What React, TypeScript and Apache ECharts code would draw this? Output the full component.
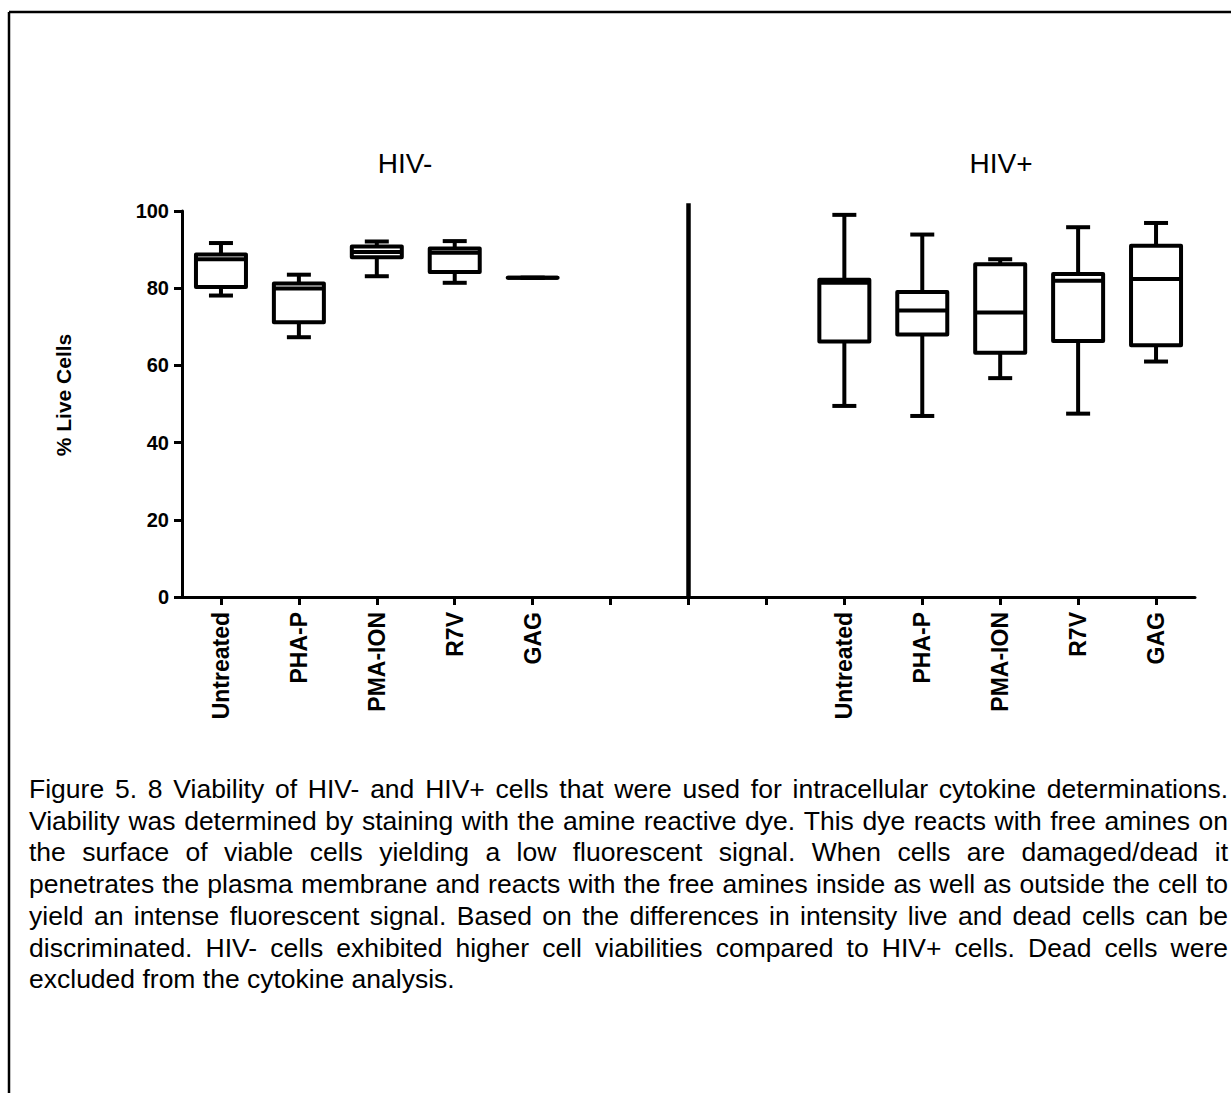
import React, { useEffect, useRef } from 'react';
import * as echarts from 'echarts';

const CATEGORIES = ['Untreated', 'PHA-P', 'PMA-ION', 'R7V', 'GAG', '', '', '', 'Untreated', 'PHA-P', 'PMA-ION', 'R7V', 'GAG'];
const Y_MIN = 0;
const Y_MAX = 100;
const Y_STEP = 20;

// [categoryIndex, min, q1, median, q3, max]
const HIV_NEG_BOXES = [
  [0, 78.1, 80.3, 87.5, 88.7, 91.7],
  [1, 67.3, 71.2, 79.9, 81.2, 83.5],
  [2, 83.1, 88.0, 89.4, 90.8, 92.1],
  [3, 81.4, 84.2, 89.2, 90.3, 92.2],
  [4, 82.7, 82.7, 82.7, 82.7, 82.7],
];
const HIV_POS_BOXES = [
  [8, 49.5, 66.2, 81.4, 82.2, 99.0],
  [9, 46.9, 68.0, 74.2, 79.0, 93.9],
  [10, 56.7, 63.3, 73.7, 86.2, 87.5],
  [11, 47.5, 66.3, 81.9, 83.7, 95.8],
  [12, 61.0, 65.2, 82.4, 91.0, 96.9],
];
// [categoryIndex, from, to]
const DIVIDER = [[6, 0, 102]];

const GROUP_TITLES = ['HIV-', 'HIV+'];
const Y_TITLE = '% Live Cells';
const CAPTION_LINES = [
  'Figure 5. 8 Viability of HIV- and HIV+ cells that were used for intracellular cytokine determinations.',
  'Viability was determined by staining with the amine reactive dye. This dye reacts with free amines on',
  'the surface of viable cells yielding a low fluorescent signal. When cells are damaged/dead it',
  'penetrates the plasma membrane and reacts with the free amines inside as well as outside the cell to',
  'yield an intense fluorescent signal. Based on the differences in intensity live and dead cells can be',
  'discriminated. HIV- cells exhibited higher cell viabilities compared to HIV+ cells. Dead cells were',
  'excluded from the cytokine analysis.',
];

const FONT = '"Liberation Sans", Arial, sans-serif';
const STROKE = { stroke: '#000', lineWidth: 4, fill: 'none', lineJoin: 'round' };

function renderBox(params: any, api: any) {
  const x = api.value(0);
  const pMin = api.coord([x, api.value(1)]);
  const pQ1 = api.coord([x, api.value(2)]);
  const pMed = api.coord([x, api.value(3)]);
  const pQ3 = api.coord([x, api.value(4)]);
  const pMax = api.coord([x, api.value(5)]);
  const cx = pMin[0];
  const bw = 25;
  const cw = 12;
  return {
    type: 'group',
    children: [
      { type: 'line', shape: { x1: cx, y1: pMax[1], x2: cx, y2: pQ3[1] }, style: STROKE },
      { type: 'line', shape: { x1: cx, y1: pQ1[1], x2: cx, y2: pMin[1] }, style: STROKE },
      { type: 'line', shape: { x1: cx - cw, y1: pMax[1], x2: cx + cw, y2: pMax[1] }, style: STROKE },
      { type: 'line', shape: { x1: cx - cw, y1: pMin[1], x2: cx + cw, y2: pMin[1] }, style: STROKE },
      {
        type: 'polygon',
        shape: { points: [[cx - bw, pQ3[1]], [cx + bw, pQ3[1]], [cx + bw, pQ1[1]], [cx - bw, pQ1[1]]] },
        style: STROKE,
      },
      { type: 'line', shape: { x1: cx - bw, y1: pMed[1], x2: cx + bw, y2: pMed[1] }, style: STROKE },
    ],
  };
}

function renderDivider(params: any, api: any) {
  const x = api.value(0);
  const p0 = api.coord([x, api.value(1)]);
  const p1 = api.coord([x, api.value(2)]);
  return {
    type: 'line',
    shape: { x1: p0[0], y1: p0[1], x2: p1[0], y2: p1[1] },
    style: { stroke: '#000', lineWidth: 4.5 },
  };
}

function captionGraphics(): any[] {
  const size = 26.5;
  const left = 29;
  const right = 1228;
  const top = 789;
  const lh = 31.7;
  const canvas = document.createElement('canvas');
  const ctx = canvas.getContext('2d')!;
  ctx.font = `${size}px "Liberation Sans"`;
  const out: any[] = [];
  CAPTION_LINES.forEach((line, li) => {
    const words = line.split(' ');
    const widths = words.map((w) => ctx.measureText(w).width);
    const total = widths.reduce((a, b) => a + b, 0);
    const last = li === CAPTION_LINES.length - 1;
    const gap = last ? ctx.measureText(' ').width : (right - left - total) / (words.length - 1);
    let x = left;
    words.forEach((w, wi) => {
      out.push({
        type: 'text',
        x,
        y: top + li * lh,
        style: {
          text: w,
          fontSize: size,
          fontFamily: FONT,
          fill: '#000',
          align: 'left',
          verticalAlign: 'middle',
        },
      });
      x += widths[wi] + gap;
    });
  });
  return out;
}

export default function App() {
  const ref = useRef<HTMLDivElement>(null);
  useEffect(() => {
    const chart = echarts.init(ref.current!, null, { renderer: 'svg' });
    const option: any = {
      animation: false,
      backgroundColor: '#fff',
      grid: { left: 182, right: 36, top: 211, bottom: 496, containLabel: false },
      xAxis: {
        type: 'category',
        data: CATEGORIES,
        boundaryGap: true,
        axisLine: { show: true, lineStyle: { color: '#000', width: 3 } },
        axisTick: { show: true, alignWithLabel: true, interval: 0, length: 8, lineStyle: { color: '#000', width: 3 } },
        axisLabel: {
          interval: 0,
          rotate: 90,
          margin: 15,
          color: '#000',
          fontSize: 23,
          fontWeight: 'bold',
          fontFamily: FONT,
        },
        splitLine: { show: false },
      },
      yAxis: {
        type: 'value',
        min: Y_MIN,
        max: Y_MAX,
        interval: Y_STEP,
        axisLine: { show: true, lineStyle: { color: '#000', width: 3 } },
        axisTick: { show: true, length: 8, lineStyle: { color: '#000', width: 3 } },
        axisLabel: { margin: 13, color: '#000', fontSize: 20, fontWeight: 'bold', fontFamily: FONT },
        splitLine: { show: false },
      },
      series: [
        {
          name: 'HIV-',
          type: 'custom',
          renderItem: renderBox,
          encode: { x: 0, y: [1, 2, 3, 4, 5] },
          data: HIV_NEG_BOXES,
          clip: false,
        },
        {
          name: 'HIV+',
          type: 'custom',
          renderItem: renderBox,
          encode: { x: 0, y: [1, 2, 3, 4, 5] },
          data: HIV_POS_BOXES,
          clip: false,
        },
        {
          name: 'divider',
          type: 'custom',
          renderItem: renderDivider,
          encode: { x: 0, y: [1, 2] },
          data: DIVIDER,
          clip: false,
        },
      ],
      graphic: [
        { type: 'line', shape: { x1: 9, y1: 12, x2: 1231, y2: 12 }, style: { stroke: '#000', lineWidth: 2.5 } },
        { type: 'line', shape: { x1: 9, y1: 12, x2: 9, y2: 1093 }, style: { stroke: '#000', lineWidth: 2.5 } },
        {
          type: 'text', x: 405, y: 163,
          style: { text: GROUP_TITLES[0], fontSize: 28, fontFamily: FONT, fill: '#000', align: 'center', verticalAlign: 'middle' },
        },
        {
          type: 'text', x: 1001, y: 163,
          style: { text: GROUP_TITLES[1], fontSize: 28, fontFamily: FONT, fill: '#000', align: 'center', verticalAlign: 'middle' },
        },
        {
          type: 'text', x: 63, y: 395, rotation: Math.PI / 2,
          style: { text: Y_TITLE, fontSize: 21, fontWeight: 'bold', fontFamily: FONT, fill: '#000', align: 'center', verticalAlign: 'middle' },
        },
        ...captionGraphics(),
      ],
    };
    chart.setOption(option);
    return () => chart.dispose();
  }, []);
  return <div ref={ref} style={{ position: 'fixed', left: 0, top: 0, width: 1231, height: 1093 }} />;
}
